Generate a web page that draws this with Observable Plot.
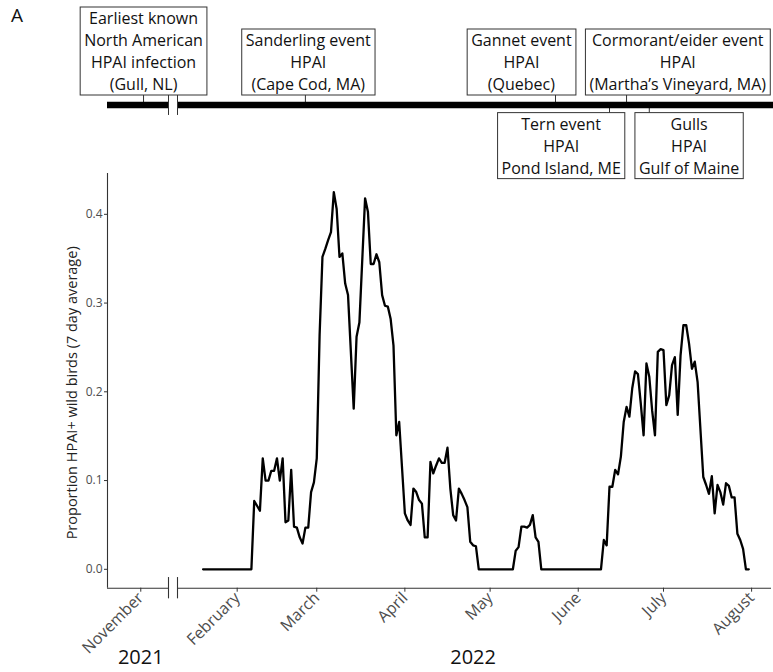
<!DOCTYPE html>
<html>
<head>
<meta charset="utf-8">
<script src="https://cdn.jsdelivr.net/npm/d3@7"></script>
<script src="https://cdn.jsdelivr.net/npm/@observablehq/plot@0.6"></script>
<style>
  body { margin: 0; background: #fff; }
  #wrap { position: relative; width: 773px; height: 672px; font-family: "Open Sans", sans-serif; overflow: hidden; }
  #main { position: absolute; left: 0; top: 150px; }
  #timeline { position: absolute; left: 0; top: 0; }
  #panel { position: absolute; left: 11px; top: 3px; font-size: 19px; line-height: 1.36; color: #111; }
</style>
</head>
<body>
<div id="wrap">
  <div id="main"></div>
  <div id="timeline"></div>
  <div id="panel">A</div>
</div>
<script>
// ---- Data ----
const dates = [
  "2022-01-20","2022-02-06","2022-02-07","2022-02-09","2022-02-10","2022-02-11","2022-02-12","2022-02-13",
  "2022-02-14","2022-02-15","2022-02-16","2022-02-17","2022-02-18","2022-02-19","2022-02-20","2022-02-21",
  "2022-02-22","2022-02-23","2022-02-24","2022-02-25","2022-02-26","2022-02-27","2022-02-28","2022-03-01",
  "2022-03-02","2022-03-03","2022-03-04","2022-03-05","2022-03-06","2022-03-07","2022-03-08","2022-03-09",
  "2022-03-10","2022-03-11","2022-03-12","2022-03-14","2022-03-15","2022-03-16","2022-03-18","2022-03-19",
  "2022-03-20","2022-03-21","2022-03-22","2022-03-23","2022-03-24","2022-03-25","2022-03-26","2022-03-27",
  "2022-03-28","2022-03-29","2022-03-30","2022-04-01","2022-04-02","2022-04-03","2022-04-04","2022-04-05",
  "2022-04-06","2022-04-07","2022-04-08","2022-04-09","2022-04-10","2022-04-11","2022-04-12","2022-04-13",
  "2022-04-14","2022-04-15","2022-04-16","2022-04-17","2022-04-18","2022-04-19","2022-04-20","2022-04-21",
  "2022-04-22","2022-04-23","2022-04-24","2022-04-25","2022-04-26","2022-04-27","2022-05-09","2022-05-10",
  "2022-05-11","2022-05-12","2022-05-13","2022-05-14","2022-05-15","2022-05-16","2022-05-17","2022-05-18",
  "2022-05-19","2022-06-09","2022-06-10","2022-06-11","2022-06-12","2022-06-13","2022-06-14","2022-06-15",
  "2022-06-16","2022-06-17","2022-06-18","2022-06-19","2022-06-20","2022-06-21","2022-06-22","2022-06-23",
  "2022-06-24","2022-06-25","2022-06-26","2022-06-27","2022-06-28","2022-06-29","2022-06-30","2022-07-01",
  "2022-07-02","2022-07-03","2022-07-04","2022-07-05","2022-07-06","2022-07-07","2022-07-08","2022-07-09",
  "2022-07-10","2022-07-11","2022-07-12","2022-07-13","2022-07-15","2022-07-16","2022-07-17","2022-07-18",
  "2022-07-19","2022-07-20","2022-07-21","2022-07-22","2022-07-23","2022-07-24","2022-07-25","2022-07-26",
  "2022-07-27","2022-07-28","2022-07-29","2022-07-30","2022-07-31"
];
const values = [
  0, 0, 0.077, 0.066, 0.125, 0.100, 0.100, 0.111,
  0.111, 0.125, 0.100, 0.125, 0.053, 0.055, 0.112, 0.048,
  0.047, 0.036, 0.029, 0.047, 0.047, 0.087, 0.098, 0.125,
  0.264, 0.352, 0.361, 0.371, 0.380, 0.425, 0.406, 0.352,
  0.356, 0.322, 0.309, 0.181, 0.262, 0.278, 0.418, 0.403,
  0.344, 0.344, 0.355, 0.346, 0.309, 0.297, 0.296, 0.282,
  0.252, 0.151, 0.166, 0.063, 0.055, 0.050, 0.091, 0.087,
  0.078, 0.074, 0.036, 0.036, 0.121, 0.108, 0.117, 0.125,
  0.120, 0.120, 0.137, 0.091, 0.061, 0.055, 0.091, 0.085,
  0.078, 0.070, 0.031, 0.027, 0.026, 0, 0, 0.021,
  0.025, 0.048, 0.048, 0.047, 0.050, 0.061, 0.036, 0.031,
  0, 0, 0.033, 0.027, 0.093, 0.093, 0.112, 0.107,
  0.127, 0.166, 0.183, 0.172, 0.204, 0.223, 0.220, 0.187,
  0.151, 0.232, 0.217, 0.179, 0.151, 0.245, 0.248, 0.247,
  0.185, 0.196, 0.230, 0.239, 0.174, 0.241, 0.275, 0.275,
  0.254, 0.226, 0.234, 0.211, 0.104, 0.095, 0.085, 0.105,
  0.063, 0.095, 0.087, 0.073, 0.097, 0.094, 0.081, 0.081,
  0.040, 0.033, 0.023, 0, 0
];

const monthTicks = ["2021-11-01","2022-02-01","2022-03-01","2022-04-01","2022-05-01","2022-06-01","2022-07-01","2022-08-01"];
const yTicks = [0, 0.1, 0.2, 0.3, 0.4];
const yLabel = "Proportion HPAI+ wild birds (7 day average)";
const yearLabels = ["2021", "2022"];
const yearDates = ["2021-11-01", "2022-04-25"];

const eventLabels = [
  "Earliest known\nNorth American\nHPAI infection\n(Gull, NL)",
  "Sanderling event\nHPAI\n(Cape Cod, MA)",
  "Gannet event\nHPAI\n(Quebec)",
  "Cormorant/eider event\nHPAI\n(Martha\u2019s Vineyard, MA)",
  "Tern event\nHPAI\nPond Island, ME",
  "Gulls\nHPAI\nGulf of Maine"
];
const eventDates  = ["2021-11-02","2022-02-25","2022-05-24","2022-06-18","2022-06-12","2022-06-26"];
const labelDates  = ["2021-11-02","2022-02-26","2022-05-12","2022-07-06","2022-05-26","2022-07-10"];
const eventSide   = ["above","above","above","above","below","below"];

// broken time axis: Oct-Nov 2021 | Jan-Aug 2022
const xDomain = ["2021-10-20","2021-11-11","2022-01-11","2022-08-08"];
const axisBreak = ["2021-11-11","2022-01-11"];
const timelineEnd = "2022-08-12";

// ---- Build ----
const parse = d3.utcParse("%Y-%m-%d");
const xScale = {type: "utc", domain: xDomain.map(parse), range: [107, 168, 177, 771]};
const series = dates.map((d, i) => ({date: parse(d), value: values[i]}));
const events = eventLabels.map((t, i) => ({label: t, date: parse(eventDates[i]), labelDate: parse(labelDates[i]), side: eventSide[i]}));
const axisSegments = [
  {x1: parse(xDomain[0]), x2: parse(axisBreak[0])},
  {x1: parse(axisBreak[1]), x2: parse(xDomain[3])}
];
const barSegments = [
  {x1: parse(xDomain[0]), x2: parse(axisBreak[0])},
  {x1: parse(axisBreak[1]), x2: parse(timelineEnd)}
];
const yDomain = [-0.0213, 0.446];
const font = "'Open Sans', sans-serif";

const main = Plot.plot({
  width: 773, height: 522,
  marginTop: 23, marginBottom: 84.3, marginLeft: 107, marginRight: 2,
  style: {fontFamily: font, background: "transparent", overflow: "visible"},
  x: xScale,
  y: {domain: yDomain},
  marks: [
    Plot.ruleX([parse(xDomain[0])], {y1: yDomain[0], y2: yDomain[1], stroke: "#333", strokeWidth: 1.1}),
    Plot.ruleY(axisSegments, {x1: "x1", x2: "x2", y: yDomain[0], stroke: "#333", strokeWidth: 1.1}),
    Plot.ruleX(axisBreak.map(parse), {y1: yDomain[0] - 0.012, y2: yDomain[0] + 0.012, stroke: "#333", strokeWidth: 1.1}),
    Plot.axisY(yTicks, {tickFormat: d3.format(".1f"), tickSize: 3, tickPadding: 2, fontSize: 12, fill: "#4d4d4d", stroke: "#333", label: null}),
    Plot.axisX(monthTicks.map(parse), {tickFormat: d3.utcFormat("%B"), tickRotate: -45, tickSize: 4, tickPadding: 3, fontSize: 16, fill: "#4d4d4d", stroke: "#333", label: null}),
    Plot.text([yLabel], {frameAnchor: "left", textAnchor: "middle", rotate: -90, dx: -35, dy: 12, fontSize: 14.5, fill: "#222"}),
    Plot.text(yearLabels, {x: (d, i) => parse(yearDates[i]), frameAnchor: "bottom", lineAnchor: "bottom", dy: 76, fontSize: 20, fill: "#111"}),
    Plot.line(series, {x: "date", y: "value", stroke: "black", strokeWidth: 2.3, strokeLinejoin: "round"})
  ]
});
document.getElementById("main").append(main);

const timeline = Plot.plot({
  width: 773, height: 185,
  marginTop: 24, marginBottom: 0, marginLeft: 107, marginRight: 2,
  style: {fontFamily: font, background: "transparent", overflow: "visible"},
  x: {...xScale, axis: null},
  y: {domain: [-1, 1], axis: null},
  marks: [
    Plot.ruleX(events, {x: "date", y1: 0, y2: d => d.side === "above" ? 0.14 : -0.14, stroke: "#333", strokeWidth: 1}),
    Plot.ruleY(barSegments, {x1: "x1", x2: "x2", y: 0, stroke: "black", strokeWidth: 6.5}),
    Plot.ruleX(axisBreak.map(parse), {y1: -0.13, y2: 0.118, stroke: "#333", strokeWidth: 1}),
    Plot.text(events.filter(d => d.side === "above"), {x: "labelDate", y: 0, text: "label", lineAnchor: "bottom", dy: -15, fontSize: 16, lineHeight: 1.375, fill: "#111"}),
    Plot.text(events.filter(d => d.side === "below"), {x: "labelDate", y: 0, text: "label", lineAnchor: "top", dy: 9, fontSize: 16, lineHeight: 1.375, fill: "#111"})
  ]
});
document.getElementById("timeline").append(timeline);

// draw boxes around event labels
timeline.querySelectorAll('g[aria-label="text"] text').forEach(t => {
  const bb = t.getBBox();
  const r = document.createElementNS("http://www.w3.org/2000/svg", "rect");
  const padX = 4, padY = 0;
  r.setAttribute("x", bb.x - padX);
  r.setAttribute("y", bb.y - padY);
  r.setAttribute("width", bb.width + 2 * padX);
  r.setAttribute("height", bb.height + 2 * padY);
  r.setAttribute("fill", "white");
  r.setAttribute("stroke", "#333");
  r.setAttribute("stroke-width", "1");
  const tr = t.getAttribute("transform");
  if (tr) r.setAttribute("transform", tr);
  t.parentNode.insertBefore(r, t);
});
</script>
</body>
</html>
